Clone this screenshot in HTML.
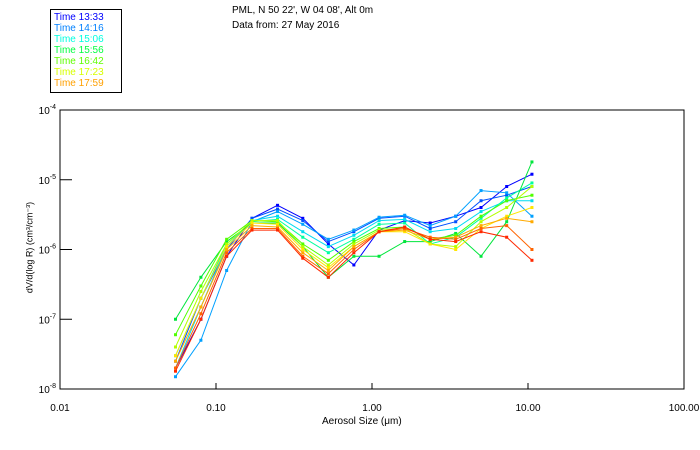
<!DOCTYPE html>
<html><head><meta charset="utf-8"><style>
body{margin:0;background:#fff;}
svg{display:block;font-family:"Liberation Sans",sans-serif;}
</style></head><body>
<svg id="chart" width="700" height="450"></svg>
<script>
const xCategories=[0.055,0.08,0.117,0.17,0.248,0.36,0.525,0.765,1.11,1.62,2.36,3.44,5.0,7.3,10.6];
const seriesLabels=["Time 13:33","Time 14:16","Time 15:06","Time 15:56","Time 16:42","Time 17:23","Time 17:59"];
const s1=[2e-8,1e-7,8e-7,2.8e-6,4.3e-6,2.8e-6,1.2e-6,6e-7,1.9e-6,2.6e-6,2.4e-6,3.0e-6,4e-6,8e-6,1.2e-5];
const s2=[2.5e-8,2e-7,1e-6,2.8e-6,3.8e-6,2.6e-6,1.3e-6,1.8e-6,2.8e-6,3.0e-6,2.0e-6,2.5e-6,5e-6,6e-6,8e-6];
const s3=[1.5e-8,5e-8,5e-7,2.5e-6,3.5e-6,2.3e-6,1.4e-6,1.9e-6,2.9e-6,3.1e-6,2.2e-6,3.0e-6,7e-6,6.5e-6,3e-6];
const s4=[2e-8,1.5e-7,1.1e-6,2.6e-6,3.0e-6,1.8e-6,1.1e-6,1.6e-6,2.6e-6,2.7e-6,1.8e-6,2.0e-6,3.5e-6,5e-6,5e-6];
const s5=[3e-8,2e-7,1.2e-6,2.5e-6,2.7e-6,1.5e-6,9e-7,1.4e-6,2.3e-6,2.4e-6,1.2e-6,1.5e-6,2.8e-6,5.5e-6,9e-6];
const s6=[1e-7,4e-7,1.3e-6,2.4e-6,2.4e-6,1.1e-6,4e-7,8e-7,8e-7,1.3e-6,1.3e-6,1.7e-6,8e-7,2.5e-6,1.8e-5];
const s7=[6e-8,3e-7,1.4e-6,2.6e-6,2.5e-6,1.2e-6,7e-7,1.3e-6,2.0e-6,2.1e-6,1.4e-6,1.6e-6,3e-6,5e-6,6e-6];
const s8=[4e-8,2.5e-7,1.2e-6,2.6e-6,2.6e-6,1.1e-6,6e-7,1.2e-6,1.9e-6,2.0e-6,1.2e-6,1.1e-6,2.5e-6,4e-6,8e-6];
const s9=[3e-8,2e-7,1.1e-6,2.4e-6,2.3e-6,1.0e-6,5.5e-7,1.1e-6,1.8e-6,1.8e-6,1.2e-6,1.0e-6,2.0e-6,3e-6,4e-6];
const s10=[2.5e-8,1.5e-7,1e-6,2.2e-6,2.1e-6,9e-7,5e-7,1.1e-6,1.8e-6,1.9e-6,1.4e-6,1.5e-6,2.2e-6,2.8e-6,2.5e-6];
const s11=[2e-8,1.2e-7,9e-7,2.0e-6,2.0e-6,8e-7,4.5e-7,1.0e-6,1.8e-6,2.0e-6,1.5e-6,1.4e-6,2.0e-6,2.2e-6,1e-6];
const s12=[1.8e-8,1e-7,8e-7,1.9e-6,1.9e-6,7.5e-7,4e-7,9e-7,1.8e-6,2.1e-6,1.4e-6,1.3e-6,1.8e-6,1.5e-6,7e-7];
const series=[s1,s2,s3,s4,s5,s6,s7,s8,s9,s10,s11,s12];
const xTicks=["0.01","0.10","1.00","10.00","100.00"];
const yTickExps=[-4,-5,-6,-7,-8];

const svg=document.getElementById('chart');
const NS='http://www.w3.org/2000/svg';
const L=60,R=684,T=110,B=389;
function X(v){return L+(Math.log10(v)+2)/4*(R-L);}
function Y(v){return T+(-4-Math.log10(v))/4*(B-T);}
function mk(tag,attrs,parent){const e=document.createElementNS(NS,tag);for(const k in attrs)e.setAttribute(k,attrs[k]);(parent||svg).appendChild(e);return e;}
const colors=['#0000ff','#0050ff','#00a0ff','#00dcf0','#00ffa0','#00e63c','#50ff00','#b4ff00','#ffe600','#ffaa00','#ff6400','#ff2800'];
const legColors=['#0000ff','#0080ff','#00ffe0','#00ff40','#60ff00','#d8ff00','#ffa000'];

let f=mk('rect',{x:L,y:T,width:R-L,height:B-T,fill:'none',stroke:'#000','stroke-width':1});


yTickExps.forEach((e,i)=>{
  const y=Y(Math.pow(10,e));
  const t=mk('line',{x1:L,x2:L+12,y1:y,y2:y,stroke:'#000'});
  
  
  const tx=mk('text',{x:L-4,y:y+4,'font-size':10,'text-anchor':'end'});
  
  
  tx.textContent='10';
  const sp=mk('tspan',{dy:-5,'font-size':7},tx);
  sp.textContent=String(e);
});
xTicks.forEach((s,i)=>{
  const x=X(parseFloat(s));
  const t=mk('line',{x1:x,x2:x,y1:B,y2:B-6,stroke:'#000'});
  
  
  const tx=mk('text',{x:x,y:B+22,'font-size':10,'text-anchor':'middle'});
  
  
  tx.textContent=s;
});
series.forEach((s,i)=>{
  const g=mk('g',{});
  
  
  const pts=s.map((v,j)=>X(xCategories[j]).toFixed(1)+','+Y(v).toFixed(1)).join(' ');
  mk('polyline',{points:pts,fill:'none',stroke:colors[i],'stroke-width':1},g);
  s.forEach((v,j)=>{
    const r=mk('rect',{x:X(xCategories[j])-1.5,y:Y(v)-1.5,width:3,height:3,fill:colors[i]},g);
    
    
  });
});
const lg=mk('g',{});


mk('rect',{x:50.5,y:9.5,width:71,height:83,fill:'#fff',stroke:'#000'},lg);
seriesLabels.forEach((s,i)=>{
  const t=mk('text',{x:54,y:20+i*11,'font-size':10,fill:legColors[i]},lg);
  
  
  t.textContent=s;
});
</script>
<div style="position:absolute;left:322px;top:416px;font:10px 'Liberation Sans',sans-serif;">Aerosol Size (μm)</div>
<div style="position:absolute;left:232px;top:3px;font:10px 'Liberation Sans',sans-serif;line-height:15px;">PML, N 50 22', W 04 08', Alt 0m<br>Data from: 27 May 2016</div>
<div style="position:absolute;left:-60px;top:242px;width:180px;text-align:center;transform:rotate(-90deg);font:9px 'Liberation Sans',sans-serif;">dV/d(log R) (cm³/cm⁻³)</div>
</body></html>
